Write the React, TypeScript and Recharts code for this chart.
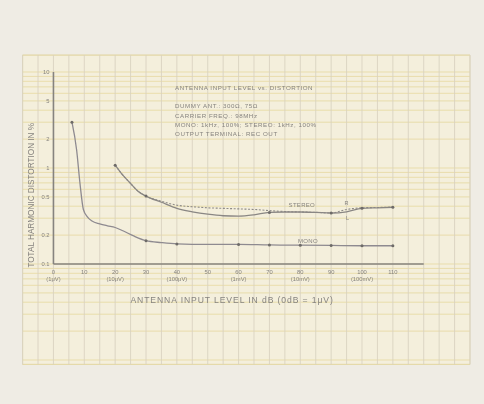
import React from 'react'
import {
  ComposedChart,
  Line,
  XAxis,
  YAxis,
  ReferenceArea,
  ReferenceLine,
  ReferenceDot,
} from 'recharts'

// ── Data ───────────────────────────────────────────────────────
const MONO_DB = [6, 7.5, 8.6, 9.7, 11, 12.5, 15, 17.5, 20, 22.5, 26, 30, 35, 40, 50, 60, 70, 80, 90, 100, 110]
const MONO_THD = [3.0, 1.55, 0.69, 0.37, 0.31, 0.28, 0.262, 0.25, 0.24, 0.222, 0.196, 0.175, 0.167, 0.162, 0.16, 0.16, 0.158, 0.157, 0.156, 0.155, 0.155]
const MONO_MARKS = [6, 30, 40, 60, 70, 80, 90, 100, 110]

const STEREO_DB = [20, 22, 25, 27.5, 30, 35, 40, 45, 50, 55, 60, 65, 70, 75, 80, 85, 90, 95, 100, 105, 110]
const STEREO_L = [1.07, 0.88, 0.69, 0.57, 0.51, 0.44, 0.38, 0.35, 0.33, 0.318, 0.315, 0.325, 0.345, 0.348, 0.348, 0.345, 0.34, 0.35, 0.38, 0.385, 0.39]
const STEREO_R = [1.07, 0.88, 0.69, 0.57, 0.51, 0.45, 0.41, 0.395, 0.385, 0.38, 0.375, 0.37, 0.36, 0.352, 0.348, 0.345, 0.34, 0.37, 0.385, 0.388, 0.392]
const STEREO_MARKS = [20, 30, 70, 90, 100, 110]

// axis ticks
const X_TICKS = [0, 10, 20, 30, 40, 50, 60, 70, 80, 90, 100, 110]
const X_SUBS = ['(1μV)', '', '(10μV)', '', '(100μV)', '', '(1mV)', '', '(10mV)', '', '(100mV)', '']
const Y_TICKS = [0.1, 0.2, 0.5, 1, 2, 5, 10]
const Y_LABELS = ['0.1', '0.2', '0.5', '1', '2', '5', '10']

// graph paper rulings
const PAPER_X = [-10, -5, 0, 5, 10, 15, 20, 25, 30, 35, 40, 45, 50, 55, 60, 65, 70, 75, 80, 85, 90, 95, 100, 105, 110, 115, 120, 125, 130, 135]
const PAPER_Y = [
  0.009, 0.01, 0.02, 0.03, 0.04, 0.05, 0.06, 0.07, 0.08, 0.09,
  0.1, 0.2, 0.3, 0.4, 0.5, 0.6, 0.7, 0.8, 0.9,
  1, 2, 3, 4, 5, 6, 7, 8, 9, 10, 15,
]

const NOTES = [
  'ANTENNA INPUT LEVEL vs. DISTORTION',
  '',
  'DUMMY ANT.: 300Ω, 75Ω',
  'CARRIER FREQ.: 98MHz',
  'MONO: 1kHz, 100%; STEREO: 1kHz, 100%',
  'OUTPUT TERMINAL: REC OUT',
]

const monoData = MONO_DB.map((db, i) => ({ db, thd: MONO_THD[i] }))
const stereoData = STEREO_DB.map((db, i) => ({ db, l: STEREO_L[i], r: STEREO_R[i] }))

const INK = '#86837f'
const FONT = '"Liberation Sans", Arial, sans-serif'

function marker(marks: number[]) {
  return (p: any) => {
    if (!marks.includes(p.payload?.db)) return <g key={`m-${p.index}`} />
    return <circle key={`m-${p.index}`} cx={p.cx} cy={p.cy} r={1.5} fill="#6e6b68" />
  }
}

function textShape(lines: string[], opts: { anchor?: 'start' | 'middle' | 'end'; size?: number; dx?: number; dy?: number; lh?: number; rotate?: boolean; spacing?: number }) {
  const { anchor = 'middle', size = 6, dx = 0, dy = 0, lh = 8, rotate = false, spacing = 0 } = opts
  return (p: any) => {
    const x = p.cx + dx
    const y = p.cy + dy
    return (
      <g transform={rotate ? `rotate(-90 ${x} ${y})` : undefined}>
        {lines.map((t, i) => (
          <text
            key={i}
            x={x}
            y={y + i * lh}
            textAnchor={anchor}
            dominantBaseline="central"
            fontFamily={FONT}
            fontSize={size}
            letterSpacing={spacing}
            fill={INK}
          >
            {t}
          </text>
        ))}
      </g>
    )
  }
}

export default function App() {
  return (
    <div style={{ position: 'fixed', left: 0, top: 0, width: 484, height: 404, background: '#efece4', filter: 'blur(0.35px)' }}>
      <ComposedChart width={484} height={404} margin={{ top: 55.1, right: 14, bottom: 39.6, left: 22.6 }}>
        <XAxis
          xAxisId={0}
          type="number"
          dataKey="db"
          domain={[-10, 135]}
          allowDataOverflow
          height={0}
          tick={false}
          tickLine={false}
          axisLine={false}
        />
        <YAxis
          yAxisId={0}
          type="number"
          scale="log"
          domain={[0.009, 15]}
          allowDataOverflow
          width={0}
          tick={false}
          tickLine={false}
          axisLine={false}
        />

        {/* graph paper */}
        <ReferenceArea x1={-10} x2={135} y1={0.009} y2={15} fill="#f4efdc" fillOpacity={1} stroke="#ddd4b4" strokeWidth={0.8} />
        {PAPER_Y.map((v) => (
          <ReferenceLine key={`hy-${v}`} y={v} stroke="#e6d9a2" strokeWidth={0.85} />
        ))}
        {PAPER_X.map((v) => (
          <ReferenceLine key={`vx-${v}`} x={v} stroke="#d8d1bf" strokeWidth={0.85} />
        ))}

        {/* drawn axes */}
        <ReferenceLine segment={[{ x: 0, y: 0.1 }, { x: 120, y: 0.1 }]} stroke={INK} strokeWidth={1.6} ifOverflow="visible" />
        <ReferenceLine segment={[{ x: 0, y: 0.1 }, { x: 0, y: 10 }]} stroke={INK} strokeWidth={1.6} ifOverflow="visible" />

        {X_TICKS.map((v, i) => (
          <ReferenceDot key={`xt-${v}`} x={v} y={0.1} r={0} shape={textShape([String(v), X_SUBS[i]], { dy: 7.5, lh: 7, size: 5.8 })} />
        ))}
        {Y_TICKS.map((v, i) => (
          <ReferenceDot key={`yt-${v}`} x={0} y={v} r={0} shape={textShape([Y_LABELS[i]], { anchor: 'end', dx: -4, size: 5.8 })} />
        ))}

        <ReferenceDot x={-7.1} y={0.52} r={0} shape={textShape(['TOTAL HARMONIC DISTORTION IN %'], { rotate: true, size: 8.2 })} />
        <ReferenceDot x={57.9} y={0.042} r={0} shape={textShape(['ANTENNA INPUT LEVEL IN dB (0dB = 1μV)'], { size: 8.6, spacing: 0.9 })} />
        <ReferenceDot x={39.4} y={6.9} r={0} shape={textShape(NOTES, { anchor: 'start', size: 6.2, lh: 9.2, spacing: 0.55 })} />

        <ReferenceDot x={80.5} y={0.41} r={0} shape={textShape(['STEREO'], { size: 6, spacing: 0.3 })} />
        <ReferenceDot x={95} y={0.43} r={0} shape={textShape(['R'], { size: 5.5 })} />
        <ReferenceDot x={95.3} y={0.3} r={0} shape={textShape(['L'], { size: 5.5 })} />
        <ReferenceDot x={82.5} y={0.175} r={0} shape={textShape(['MONO'], { size: 6, spacing: 0.3 })} />

        <Line
          data={monoData}
          dataKey="thd"
          type="monotone"
          stroke="#8e8a90"
          strokeWidth={1.3}
          dot={marker(MONO_MARKS)}
          isAnimationActive={false}
        />
        <Line
          data={stereoData}
          dataKey="r"
          type="monotone"
          stroke="#8e8b88"
          strokeWidth={1.1}
          strokeDasharray="2 1.6"
          dot={false}
          isAnimationActive={false}
        />
        <Line
          data={stereoData}
          dataKey="l"
          type="monotone"
          stroke="#8a8784"
          strokeWidth={1.3}
          dot={marker(STEREO_MARKS)}
          isAnimationActive={false}
        />
      </ComposedChart>
    </div>
  )
}
